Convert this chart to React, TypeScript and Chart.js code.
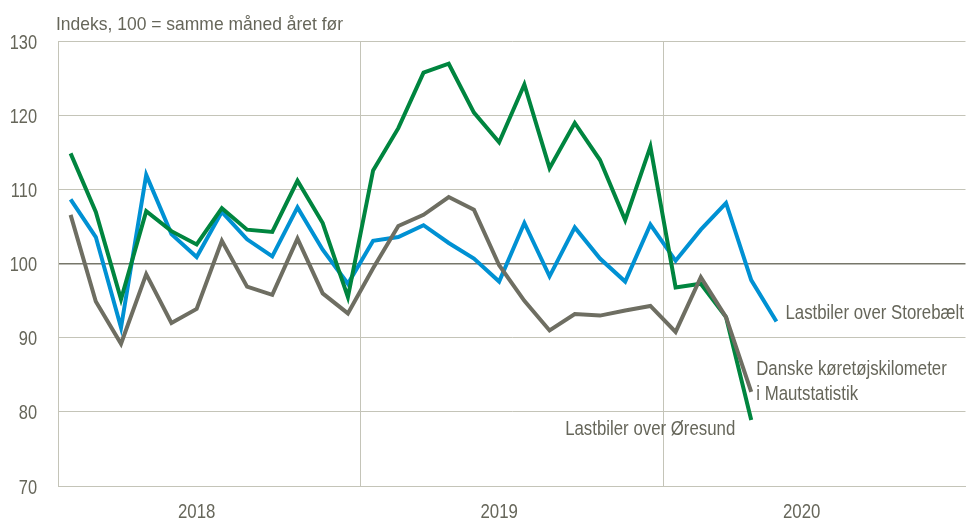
import React, { useEffect, useRef } from "react";
import { Chart, registerables } from "chart.js";

Chart.register(...registerables);

const years = ["2018", "2019", "2020"];
const monthNames = ["jan", "feb", "mar", "apr", "maj", "jun", "jul", "aug", "sep", "okt", "nov", "dec"];
const categories = years.flatMap((y) => monthNames.map((m) => `${m} ${y}`));
// year label sits under the mid-year month
const yearTickIndex = [5, 17, 29];

const storebaelt = [
  108.7, 103.6, 91.4, 112.0, 104.0, 100.9, 107.0, 103.3, 101.0, 107.6, 101.9, 97.3,
  103.1, 103.6, 105.2, 102.8, 100.7, 97.6, 105.5, 98.3, 104.9, 100.7, 97.6, 105.3,
  100.4, 104.6, 108.2, 97.8, 92.2,
];
const oresund = [
  114.9, 107.0, 95.2, 107.1, 104.4, 102.6, 107.5, 104.6, 104.3, 111.2, 105.5, 95.5,
  112.6, 118.3, 125.8, 127.0, 120.4, 116.4, 124.2, 112.9, 119.0, 114.0, 105.9, 115.8,
  96.8, 97.3, 92.8, 78.9,
];
const mautstatistik = [
  106.6, 94.9, 89.2, 98.6, 92.0, 93.9, 103.1, 96.9, 95.8, 103.4, 96.0, 93.3,
  99.4, 105.1, 106.6, 109.0, 107.3, 99.8, 95.0, 91.0, 93.2, 93.0, 93.7, 94.3,
  90.8, 98.2, 92.8, 82.7,
];

const axisTitle = "Indeks, 100 = samme måned året før";
const labelStorebaelt = "Lastbiler over Storebælt";
const labelMaut = ["Danske køretøjskilometer", "i Mautstatistik"];
const labelOresund = "Lastbiler over Øresund";

const FONT = "'Liberation Sans', Arial, sans-serif";
const TEXT = "#66665a";
const GRID = "#c4c4b8";
const BLUE = "#0091d3";
const GREEN = "#00853f";
const GRAY = "#6e6e62";

function narrowText(ctx: CanvasRenderingContext2D, text: string, x: number, y: number, align: CanvasTextAlign, size: number, sx: number, baseline: CanvasTextBaseline = "alphabetic") {
  ctx.save();
  ctx.translate(x, y);
  ctx.scale(sx, 1);
  ctx.font = `${size}px ${FONT}`;
  ctx.textAlign = align;
  ctx.textBaseline = baseline;
  ctx.fillStyle = TEXT;
  ctx.fillText(text, 0, 0);
  ctx.restore();
}

const textPlugin = {
  id: "annotTexts",
  afterDraw(chart: any) {
    const { ctx, scales, chartArea } = chart;
    const x = scales.x;
    const y = scales.y;

    // axis tick labels (condensed look), positioned by the scales
    y.ticks.forEach((t: any) => {
      narrowText(ctx, String(t.value), chartArea.left - 21, y.getPixelForValue(t.value) + 7.5, "right", 20.5, 0.8);
    });
    yearTickIndex.forEach((idx, k) => {
      narrowText(ctx, years[k], x.getPixelForValue(idx), chartArea.bottom + 32, "center", 20.5, 0.82);
    });

    narrowText(ctx, axisTitle, chartArea.left - 2, 30, "left", 19, 0.92);

    const ib = storebaelt.length - 1;
    narrowText(ctx, labelStorebaelt, x.getPixelForValue(ib) + 9, y.getPixelForValue(storebaelt[ib]) - 3, "left", 20.5, 0.82);

    const im = mautstatistik.length - 1;
    const mx = x.getPixelForValue(im) + 5;
    const my = y.getPixelForValue(mautstatistik[im]);
    narrowText(ctx, labelMaut[0], mx, my - 17, "left", 20.5, 0.82);
    narrowText(ctx, labelMaut[1], mx, my + 8, "left", 20.5, 0.82);

    const io = oresund.length - 1;
    narrowText(ctx, labelOresund, x.getPixelForValue(io) - 16, y.getPixelForValue(oresund[io]) + 15, "right", 20.5, 0.82);
  },
};

export default function App() {
  const ref = useRef<HTMLCanvasElement | null>(null);
  useEffect(() => {
    if (!ref.current) return;
    const chart = new Chart(ref.current, {
      type: "line",
      data: {
        labels: categories,
        datasets: [
          { label: "Danske køretøjskilometer i Mautstatistik", data: mautstatistik, borderColor: GRAY, borderWidth: 4, pointRadius: 0, tension: 0, fill: false },
          { label: labelOresund, data: oresund, borderColor: GREEN, borderWidth: 4, pointRadius: 0, tension: 0, fill: false },
          { label: labelStorebaelt, data: storebaelt, borderColor: BLUE, borderWidth: 4, pointRadius: 0, tension: 0, fill: false },
        ],
      },
      options: {
        animation: false,
        responsive: false,
        maintainAspectRatio: false,
        layout: { padding: { top: 41.5, right: 5.5, left: 0, bottom: 0 } },
        plugins: { legend: { display: false }, tooltip: { enabled: false }, title: { display: false } },
        scales: {
          x: {
            type: "category",
            offset: true,
            grid: {
              offset: true,
              drawTicks: false,
              lineWidth: 1,
              color: (c: any) => (c.index === 12 || c.index === 24 || c.index === 36 ? GRID : "rgba(0,0,0,0)"),
            },
            border: { display: true, color: GRID, width: 1 },
            ticks: {
              display: false,
              autoSkip: false,
              maxRotation: 0,
              callback: (_v: any, i: number) => {
                const k = yearTickIndex.indexOf(i);
                return k >= 0 ? years[k] : "";
              },
            },
            afterFit: (s: any) => {
              s.height = 34;
            },
          },
          y: {
            min: 70,
            max: 130,
            grid: {
              drawTicks: false,
              color: (c: any) => (c.tick && c.tick.value === 100 ? "#77776a" : GRID),
              lineWidth: (c: any) => (c.tick && c.tick.value === 100 ? 1.5 : 1),
            },
            border: { display: true, color: GRID, width: 1 },
            ticks: {
              display: false,
              stepSize: 10,
            },
            afterFit: (s: any) => {
              s.width = 58;
            },
          },
        },
      },
      plugins: [textPlugin],
    });
    return () => chart.destroy();
  }, []);
  return (
    <div style={{ position: "absolute", left: 0, top: 0, width: 971, height: 520, background: "#fff" }}>
      <canvas ref={ref} width={971} height={520} style={{ display: "block" }} />
    </div>
  );
}
